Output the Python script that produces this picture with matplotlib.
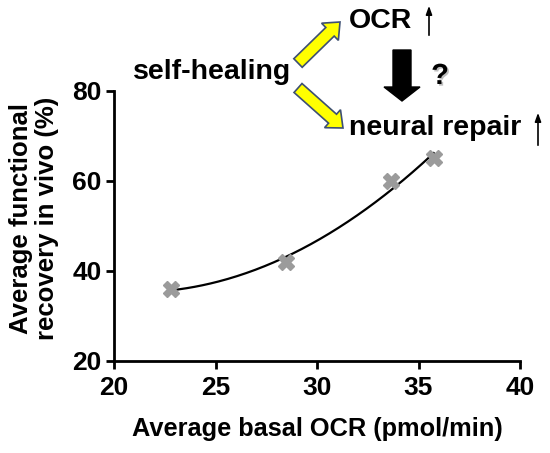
import numpy as np
import matplotlib
matplotlib.use("Agg")
import matplotlib.pyplot as plt
import matplotlib.patheffects as pe
from matplotlib.patches import FancyArrow

plt.rcParams['font.family'] = ['Liberation Sans', 'DejaVu Sans']
plt.rcParams['font.weight'] = 'bold'
plt.rcParams['axes.labelweight'] = 'bold'

# datos
ocr = [22.8, 28.45, 33.65, 35.75]
recovery = [36.0, 42.0, 60.0, 65.0]
x_ticks = [20, 25, 30, 35, 40]
y_ticks = [20, 40, 60, 80]

fig = plt.figure(figsize=(5.5, 4.53), dpi=100)
ax = fig.add_axes([114 / 550, 1 - 361 / 453, 406 / 550, 270 / 453])

# ajuste cuadratico
coef = np.polyfit(ocr, recovery, 2)
xs = np.linspace(min(ocr), max(ocr), 200)
ax.plot(xs, np.polyval(coef, xs), color="black", lw=1.6, zorder=2)
ax.plot(ocr, recovery, linestyle="none", marker="X", markersize=11,
        color="#9b9b9b", markeredgecolor="#9b9b9b", zorder=3)

ax.set_xlim(20, 40)
ax.set_ylim(20, 80)
ax.set_xticks(x_ticks)
ax.set_yticks(y_ticks)
ax.spines['top'].set_visible(False)
ax.spines['right'].set_visible(False)
for s in ['left', 'bottom']:
    ax.spines[s].set_linewidth(2)
ax.tick_params(width=2, length=6, labelsize=19, pad=5)
ax.tick_params(axis='y', pad=3)
ax.set_xlabel("Average basal OCR (pmol/min)", fontsize=18.3, labelpad=12)
ax.patch.set_alpha(0)

# esquema de arriba, en pixeles
ov = fig.add_axes([0, 0, 1, 1], zorder=5)
ov.set_xlim(0, 550)
ov.set_ylim(453, 0)
ov.axis("off")

ov.text(34, 218, "Average functional\nrecovery in vivo (%)", fontsize=18.5,
        rotation=90, ha="center", va="center", linespacing=1.1)

fs = 20.5
ov.text(212, 72, "self-healing", fontsize=fs, ha="center", va="center")
ov.text(349, 21, "OCR", fontsize=fs, ha="left", va="center")
ov.text(349, 128, "neural repair", fontsize=fs, ha="left", va="center")
ov.text(440, 76, "?", fontsize=21, ha="center", va="center", color="black",
        path_effects=[pe.SimplePatchShadow(offset=(1.2, -1.2), shadow_rgbFace="#b0b0b0", alpha=0.8),
                      pe.Normal()])

# flechas finas
thin = dict(arrowstyle="-|>,head_length=0.5,head_width=0.18", color="black", lw=1.2)
ov.annotate("", xy=(429, 3), xytext=(429, 38), arrowprops=thin)
ov.annotate("", xy=(538, 110), xytext=(538, 148), arrowprops=thin)

yellow = dict(width=12, head_width=24, head_length=14, length_includes_head=True,
              facecolor="#ffff00", edgecolor="#3d4f73", lw=1.2)
ov.add_patch(FancyArrow(298, 63, 42, -41, **yellow))
ov.add_patch(FancyArrow(298, 88, 45, 40, **yellow))
ov.add_patch(FancyArrow(402, 50, 0, 51, width=18, head_width=36, head_length=14,
                        length_includes_head=True, color="black"))

fig.savefig("out.png", dpi=100)
